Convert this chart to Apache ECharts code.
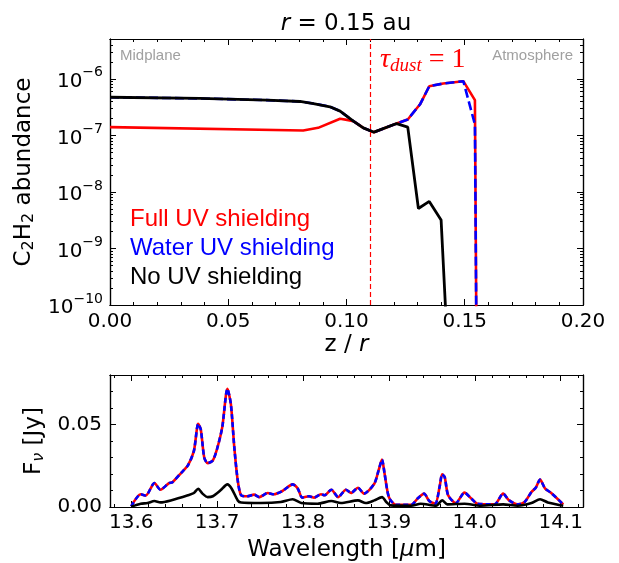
<!DOCTYPE html>
<html><head><meta charset="utf-8">
<script src="https://cdn.jsdelivr.net/npm/echarts@6/dist/echarts.min.js"></script>
<style>html,body{margin:0;padding:0;background:#fff}#c{width:619px;height:563px}</style>
</head><body><div id="c"></div>
<script>
// ---------- top panel: C2H2 abundance vs z/r ----------
const zFull   = [0.000,0.0817,0.088,0.0973,0.1008,0.1029,0.1071,0.1116,0.1212,0.1259,0.1311,0.1350,0.1409,0.1494,0.1543,0.1550];
const abFull  = [1.40e-7,1.22e-7,1.36e-7,1.97e-7,1.86e-7,1.79e-7,1.36e-7,1.14e-7,1.62e-7,1.91e-7,3.55e-7,7.4e-7,8.26e-7,9.1e-7,4.2e-7,1e-11];
const zWater  = [0.000,0.038,0.0663,0.0803,0.086,0.093,0.0973,0.1029,0.1071,0.1116,0.1212,0.1259,0.1311,0.1350,0.1409,0.1494,0.1543,0.1550];
const abWater = [4.73e-7,4.50e-7,4.20e-7,3.98e-7,3.66e-7,3.21e-7,2.69e-7,1.79e-7,1.36e-7,1.14e-7,1.62e-7,1.91e-7,3.55e-7,7.4e-7,8.26e-7,9.1e-7,1.56e-7,1e-11];
const zNo     = [0.000,0.038,0.0663,0.0803,0.086,0.093,0.0973,0.1029,0.1071,0.1116,0.1212,0.1259,0.1304,0.1350,0.1400,0.1430];
const abNo    = [4.73e-7,4.50e-7,4.20e-7,3.98e-7,3.66e-7,3.21e-7,2.69e-7,1.79e-7,1.36e-7,1.14e-7,1.62e-7,1.40e-7,5.1e-9,6.8e-9,3.2e-9,1e-11];
const tauDustZ = [0.1116];

// ---------- bottom panel: spectrum ----------
const wlShield  = [13.600,13.611,13.617,13.627,13.634,13.644,13.648,13.658,13.666,13.673,13.678,13.681,13.685,13.689,13.695,13.700,13.706,13.712,13.716,13.720,13.724,13.728,13.735,13.743,13.749,13.759,13.766,13.776,13.788,13.794,13.799,13.807,13.813,13.821,13.825,13.833,13.841,13.850,13.856,13.864,13.871,13.883,13.888,13.892,13.895,13.900,13.908,13.926,13.934,13.941,13.947,13.954,13.959,13.962,13.965,13.969,13.978,13.988,13.996,14.003,14.023,14.033,14.040,14.050,14.058,14.066,14.071,14.076,14.082,14.089,14.103];
const fluxFull  = [0.0004,0.0077,0.0070,0.0145,0.0105,0.0145,0.0150,0.0206,0.0252,0.0340,0.0504,0.0470,0.0300,0.0266,0.0282,0.0353,0.0484,0.0716,0.0625,0.0363,0.0161,0.0071,0.0065,0.0075,0.0060,0.0085,0.0077,0.0097,0.0137,0.0111,0.0057,0.0065,0.0057,0.0077,0.0071,0.0105,0.0060,0.0105,0.0085,0.0117,0.0081,0.0141,0.0222,0.0287,0.0202,0.0060,0.0014,0.0014,0.0054,0.0081,0.0036,0.0020,0.0121,0.0198,0.0181,0.0071,0.0024,0.0087,0.0051,0.0020,0.0016,0.0081,0.0040,0.0016,0.0030,0.0091,0.0117,0.0166,0.0111,0.0085,0.0016];
const fluxWater = [0.0004,0.0077,0.0070,0.0145,0.0105,0.0145,0.0150,0.0206,0.0252,0.0340,0.0504,0.0470,0.0300,0.0266,0.0282,0.0353,0.0484,0.0716,0.0625,0.0363,0.0161,0.0071,0.0065,0.0075,0.0060,0.0085,0.0077,0.0097,0.0137,0.0111,0.0057,0.0065,0.0057,0.0077,0.0071,0.0105,0.0060,0.0105,0.0085,0.0117,0.0081,0.0141,0.0222,0.0287,0.0202,0.0060,0.0014,0.0014,0.0054,0.0081,0.0036,0.0020,0.0121,0.0198,0.0181,0.0071,0.0024,0.0087,0.0051,0.0020,0.0016,0.0081,0.0040,0.0016,0.0030,0.0091,0.0117,0.0166,0.0111,0.0085,0.0016];
const wlNo      = [13.600,13.611,13.619,13.627,13.634,13.646,13.666,13.673,13.678,13.683,13.689,13.695,13.704,13.712,13.717,13.724,13.728,13.751,13.774,13.788,13.798,13.817,13.833,13.844,13.864,13.873,13.883,13.892,13.897,13.902,13.926,13.937,13.955,13.962,13.968,13.988,14.007,14.033,14.050,14.066,14.076,14.085,14.103];
const fluxNo    = [0.0002,0.0020,0.0024,0.0036,0.0028,0.0040,0.0071,0.0085,0.0111,0.0081,0.0060,0.0065,0.0101,0.0137,0.0111,0.0040,0.0027,0.0024,0.0030,0.0047,0.0024,0.0020,0.0036,0.0024,0.0040,0.0024,0.0040,0.0060,0.0030,0.0010,0.0008,0.0020,0.0008,0.0040,0.0016,0.0020,0.0008,0.0016,0.0008,0.0024,0.0047,0.0028,0.0008];

// ---------- ticks / labels ----------
const topXTicks   = [0, 0.05, 0.10, 0.15, 0.20];
const topYTickExp = [-10, -9, -8, -7, -6];
const botXTicks   = [13.6, 13.7, 13.8, 13.9, 14.0, 14.1];
const botYTicks   = [0, 0.05];
const seriesNames  = ['Full UV shielding', 'Water UV shielding', 'No UV shielding'];
const seriesColors = ['#ff0000', '#0000ff', '#000000'];

// ---------- build ----------
const FONT = 'DejaVu Sans', SANS = 'Liberation Sans', SERIF = 'Liberation Serif';
const topYMax = -5.295;

const minorTopX = []; for (let i = 1; i < 20; i++) if (i % 5) minorTopX.push(i / 100);
const minorTopY = []; for (let n = -10; n <= -6; n++) for (let k = 2; k <= 9; k++) { const v = n + Math.log10(k); if (v <= topYMax) minorTopY.push(v); }
const minorBotX = []; for (let i = 0; i <= 27; i++) { const v = Math.round((13.58 + 0.02 * i) * 100) / 100; if (Math.abs(v * 10 - Math.round(v * 10)) > 1e-6) minorBotX.push(v); }
const minorBotY = [0.01, 0.02, 0.03, 0.04, 0.06, 0.07];

function axisSet(dim, grid, min, max, majors, minors, labelCfg, nameCfg) {
  const pos = dim === 'x' ? ['bottom', 'top'] : ['left', 'right'];
  const base = { type: 'value', gridIndex: grid, min: min, max: max, splitLine: { show: false } };
  const line = { show: true, onZero: false, lineStyle: { color: '#000', width: 1.2 } };
  const mk = (p, vals, len, lab) => Object.assign({}, base, {
    position: p,
    axisLine: line,
    axisTick: { show: true, inside: true, length: len, customValues: vals, lineStyle: { color: '#000', width: 1 } },
    axisLabel: lab ? Object.assign({ show: true, customValues: majors, color: '#000', fontFamily: FONT, fontSize: 20 }, labelCfg) : { show: false }
  }, lab ? nameCfg : {});
  return [mk(pos[0], majors, 6, true), mk(pos[0], minors, 3, false), mk(pos[1], majors, 6, false), mk(pos[1], minors, 3, false)];
}

const xAxes = [].concat(
  axisSet('x', 0, 0, 0.2, topXTicks, minorTopX, { margin: 7, formatter: v => v.toFixed(2) },
    { name: '{n|z / }{i|r}', nameLocation: 'middle', nameGap: 29, nameTextStyle: { fontFamily: FONT, fontSize: 23, color: '#000', rich: { n: { fontFamily: FONT, fontSize: 23 }, i: { fontFamily: FONT, fontSize: 23, fontStyle: 'italic' } } } }),
  axisSet('x', 1, 13.5753, 14.126, botXTicks, minorBotX, { margin: 6, formatter: v => v.toFixed(1) },
    { name: '{n|Wavelength [}{i|μ}{n|m]}', nameLocation: 'middle', nameGap: 32, nameTextStyle: { fontFamily: FONT, fontSize: 23, color: '#000', rich: { n: { fontFamily: FONT, fontSize: 23 }, i: { fontFamily: FONT, fontSize: 23, fontStyle: 'italic' } } } })
);
const yAxes = [].concat(
  axisSet('y', 0, -10, topYMax, topYTickExp, minorTopY,
    { margin: 7, formatter: v => '{b|10}{s|\u2212' + Math.abs(v) + '}', rich: { b: { fontFamily: FONT, fontSize: 20, color: '#000', padding: [6, 0, 0, 0] }, s: { fontFamily: FONT, fontSize: 14, color: '#000', padding: [0, 0, 12, 0] } } },
    { name: '{n|C}{s|2}{n|H}{s|2}{n| abundance}', nameLocation: 'middle', nameGap: 70, nameTextStyle: { color: '#000', rich: { n: { fontFamily: FONT, fontSize: 23, color: '#000' }, s: { fontFamily: FONT, fontSize: 16, color: '#000', padding: [10, 0, 0, 0] } } } }),
  axisSet('y', 1, 0, 0.08, botYTicks, minorBotY, { margin: 8, formatter: v => v.toFixed(2) },
    { name: '{n|F}{s|ν}{n| [Jy]}', nameLocation: 'middle', nameGap: 56, nameTextStyle: { color: '#000', rich: { n: { fontFamily: FONT, fontSize: 23, color: '#000' }, s: { fontFamily: FONT, fontSize: 16, fontStyle: 'italic', color: '#000', padding: [10, 0, 0, 0] } } } })
);

const pairs = (xs, ys, f) => xs.map((x, i) => [x, f ? f(ys[i]) : ys[i]]);
const lg = v => Math.log10(v);

const series = [
  { name: seriesNames[0], type: 'line', xAxisIndex: 0, yAxisIndex: 0, data: pairs(zFull, abFull, lg), showSymbol: false, symbol: 'none', clip: true,
    lineStyle: { color: seriesColors[0], width: 2.6 }, itemStyle: { color: seriesColors[0] }, z: 2,
    markLine: { silent: true, symbol: 'none', label: { show: false }, animation: false,
      lineStyle: { color: '#ff0000', type: [5, 3], width: 1.2 }, data: tauDustZ.map(t => ({ xAxis: t })) } },
  { name: seriesNames[1], type: 'line', xAxisIndex: 0, yAxisIndex: 0, data: pairs(zWater, abWater, lg), showSymbol: false, symbol: 'none', clip: true,
    lineStyle: { color: seriesColors[1], width: 2.6, type: [9, 4] }, itemStyle: { color: seriesColors[1] }, z: 3 },
  { name: seriesNames[2], type: 'line', xAxisIndex: 0, yAxisIndex: 0, data: pairs(zNo, abNo, lg), showSymbol: false, symbol: 'none', clip: true,
    lineStyle: { color: seriesColors[2], width: 2.8 }, itemStyle: { color: seriesColors[2] }, z: 4 },
  { name: seriesNames[0], type: 'line', xAxisIndex: 4, yAxisIndex: 4, data: pairs(wlShield, fluxFull), showSymbol: false, symbol: 'none', smooth: 0.25,
    lineStyle: { color: seriesColors[0], width: 2.6 }, itemStyle: { color: seriesColors[0] }, z: 2 },
  { name: seriesNames[1], type: 'line', xAxisIndex: 4, yAxisIndex: 4, data: pairs(wlShield, fluxWater), showSymbol: false, symbol: 'none', smooth: 0.25,
    lineStyle: { color: seriesColors[1], width: 2.6, type: [5, 3] }, itemStyle: { color: seriesColors[1] }, z: 3 },
  { name: seriesNames[2], type: 'line', xAxisIndex: 4, yAxisIndex: 4, data: pairs(wlNo, fluxNo), showSymbol: false, symbol: 'none', smooth: 0.25,
    lineStyle: { color: seriesColors[2], width: 2.6 }, itemStyle: { color: seriesColors[2] }, z: 4 }
];

const option = {
  backgroundColor: '#fff',
  animation: false,
  grid: [
    { left: 110, top: 39, width: 473, height: 266 },
    { left: 110, top: 375, width: 473, height: 132 }
  ],
  xAxis: xAxes,
  yAxis: yAxes,
  legend: {
    orient: 'vertical', left: 125, top: 207, padding: 0, itemGap: 5, itemWidth: 0, itemHeight: 0,
    data: seriesNames.map((n, i) => ({ name: n, icon: 'none', textStyle: { color: seriesColors[i] } })),
    textStyle: { fontFamily: SANS, fontSize: 24 }
  },
  graphic: [
    { type: 'text', x: 346, y: 24, style: { text: '{i|r}{n| = 0.15 au}', align: 'center', verticalAlign: 'middle', fill: '#000',
      rich: { i: { fontFamily: FONT, fontSize: 23, fontStyle: 'italic' }, n: { fontFamily: FONT, fontSize: 23 } } } },
    { type: 'text', x: 120, y: 56, style: { text: 'Midplane', fill: '#a0a0a0', fontFamily: SANS, fontSize: 15, verticalAlign: 'middle' } },
    { type: 'text', x: 573, y: 56, style: { text: 'Atmosphere', fill: '#a0a0a0', fontFamily: SANS, fontSize: 15, align: 'right', verticalAlign: 'middle' } },
    { type: 'text', x: 380, y: 60, style: { text: '{t|τ}{s|dust}{e| = 1}', align: 'left', verticalAlign: 'middle', fill: '#ff0000',
      rich: { t: { fontFamily: SERIF, fontSize: 28, fontStyle: 'italic', fill: '#ff0000' },
              s: { fontFamily: SERIF, fontSize: 19, fontStyle: 'italic', fill: '#ff0000', padding: [12, 0, 0, 0] },
              e: { fontFamily: SERIF, fontSize: 28, fill: '#ff0000' } } } }
  ],
  series: series
};
const chart = echarts.init(document.getElementById('c'));
chart.setOption(option);
</script>
</body></html>
